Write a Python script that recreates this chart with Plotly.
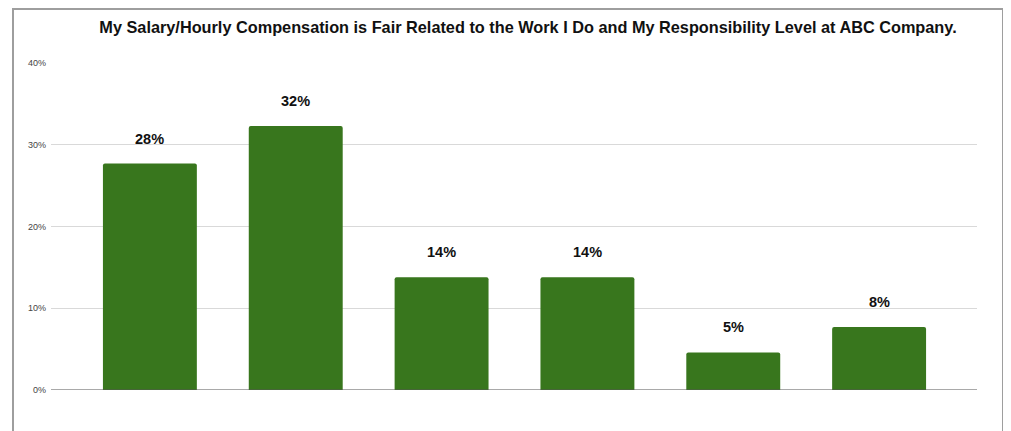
import plotly.graph_objects as go

categories = ["A", "B", "C", "D", "E", "F"]
values = [0.277, 0.323, 0.138, 0.138, 0.046, 0.077]
labels = ["28%", "32%", "14%", "14%", "5%", "8%"]
title = "My Salary/Hourly Compensation is Fair Related to the Work I Do and My Responsibility Level at ABC Company."

OFF = 8  # page body margin offset
W, H = 1011 - OFF, 431 - OFF
ML, MR, MT, MB = 51 - OFF, 1011 - 977, 63 - OFF, 431 - 390
PW, PH = W - ML - MR, H - MT - MB

def px(x):
    return (x - OFF - ML) / PW

def py(y):
    return (H - MB - (y - OFF)) / PH

fig = go.Figure()
fig.add_trace(go.Bar(
    x=list(range(len(categories))), y=values,
    marker=dict(color="#38761d", line=dict(width=0), cornerradius=2),
    width=0.644, hoverinfo="skip",
))

for i, (v, t) in enumerate(zip(values, labels)):
    fig.add_annotation(x=i, y=v, text="<b>%s</b>" % t, showarrow=False,
                       yshift=25, font=dict(family="Liberation Sans, Arial", size=14.5, color="#111"))

shapes = [
    dict(type="rect", xref="paper", yref="paper", x0=px(13), x1=px(1003), y0=py(445), y1=py(9),
         line=dict(color="#9e9e9e", width=2), layer="below"),
    dict(type="line", xref="paper", yref="paper", x0=px(1005), x1=px(1011), y0=py(325), y1=py(325),
         line=dict(color="#4a8fe7", width=2)),
    dict(type="line", xref="paper", yref="paper", x0=px(1005), x1=px(1011), y0=py(345.5), y1=py(345.5),
         line=dict(color="#4a8fe7", width=2)),
    dict(type="line", xref="paper", yref="y", x0=0, x1=1, y0=0, y1=0,
         line=dict(color="#555", width=1.2)),
]

fig.update_layout(
    width=W, height=H,
    margin=dict(l=ML, r=MR, t=MT, b=MB),
    paper_bgcolor="white", plot_bgcolor="white",
    showlegend=False,
    title=dict(text="<b>%s</b>" % title, x=(528 - OFF) / W, xanchor="center", y=1 - (27 - OFF) / H, yanchor="middle",
               font=dict(family="Liberation Sans, Arial", size=16.3, color="#111")),
    xaxis=dict(range=[-0.5 - 26 / 146, len(categories) - 0.5 + 25 / 146], showticklabels=False,
               showgrid=False, zeroline=False, showline=False, ticks=""),
    yaxis=dict(range=[0, 0.4], tickvals=[0, 0.1, 0.2, 0.3, 0.4], ticktext=["0%", "10%", "20%", "30%", "40%"],
               showgrid=True, gridcolor="#d9d9d9", gridwidth=1, zeroline=False, showline=False,
               ticks="", ticklabelstandoff=4,
               tickfont=dict(family="Liberation Sans, Arial", size=9, color="#444")),
    shapes=shapes,
)

fig.write_html("out.html")
